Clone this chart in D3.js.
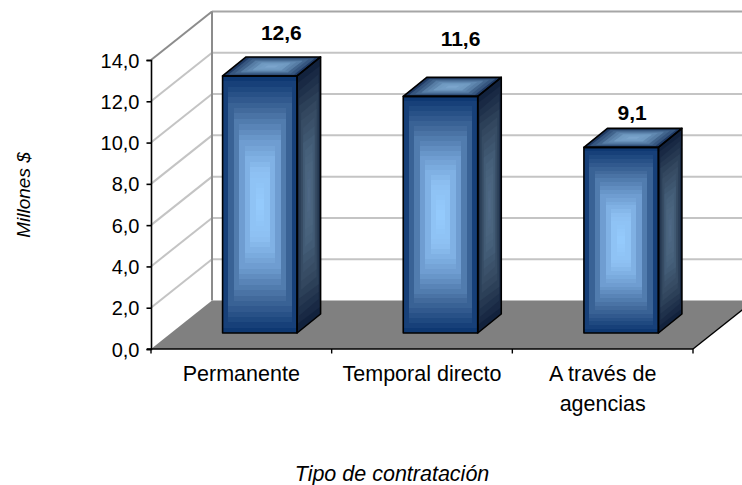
<!DOCTYPE html>
<html><head><meta charset="utf-8">
<script src="https://cdn.jsdelivr.net/npm/d3@7/dist/d3.min.js"></script>
<style>html,body{margin:0;padding:0;background:#fff}svg{display:block}text{font-family:"Liberation Sans",Arial,sans-serif;fill:#000}</style>
</head><body><svg id="c" width="742" height="485"></svg>
<script>
const categories=[["Permanente"],["Temporal directo"],["A través de","agencias"]];
const values=[12.6,11.6,9.1];
const valueLabels=["12,6","11,6","9,1"];
const tickValues=[0,2,4,6,8,10,12,14];
const tickLabels=["0,0","2,0","4,0","6,0","8,0","10,0","12,0","14,0"];
const yTitle="Millones $";
const xTitle="Tipo de contratación";

const svg=d3.select("#c");
const W=742,H=485;
svg.append("defs").append("clipPath").attr("id","page").append("rect").attr("width",W).attr("height",H);
const root=svg.append("g").attr("clip-path","url(#page)");
const x0=151,x1=693,yBase=349,yTop=60,dx=61,dy=-48.5;
const y=d3.scaleLinear().domain([0,14]).range([yBase,yTop]);
const yBar=d3.scaleLinear().domain([0,14]).range([333,333-14*20.4]);
const x=d3.scaleBand().domain(d3.range(categories.length)).range([x0,x1]);
const path=p=>"M"+p.map(q=>q.join(",")).join("L")+"Z";

root.append("path").attr("d",path([[x0,yBase],[x1,yBase],[x1+dx,yBase+dy],[x0+dx,yBase+dy]])).attr("fill","#808080");
root.append("line").attr("x1",x1).attr("y1",yBase).attr("x2",x1+dx).attr("y2",yBase+dy).attr("stroke","#000").attr("stroke-width",1.4);
const gridVals=tickValues.slice(1);
root.selectAll(".gs").data(gridVals).join("line").attr("stroke",(d,i)=>i==gridVals.length-1?"#8c8c8c":"#c4c4c4").attr("stroke-width",2)
 .attr("x1",x0).attr("y1",d=>y(d)).attr("x2",x0+dx).attr("y2",d=>y(d)+dy);
root.selectAll(".gb").data(gridVals).join("line").attr("stroke",(d,i)=>i==gridVals.length-1?"#a6a6a6":"#c4c4c4").attr("stroke-width",2)
 .attr("x1",x0+dx).attr("y1",d=>y(d)+dy).attr("x2",W).attr("y2",d=>y(d)+dy);
root.append("line").attr("x1",x0+dx).attr("x2",x0+dx).attr("y1",y(14)+dy).attr("y2",yBase+dy).attr("stroke","#8c8c8c").attr("stroke-width",2);

const ramp=(stops)=>d3.scaleLinear().domain(d3.range(stops.length).map(i=>i/(stops.length-1))).range(stops).interpolate(d3.interpolateRgb);
// concentric bands; the sideways inset advances in coarse stripes of xStep px
function stepped(g,quad,stops,n,xStep,crisp){
  const c=ramp(stops);
  const cx=d3.mean(quad,q=>q[0]),cy=d3.mean(quad,q=>q[1]);
  const hw=d3.max(quad,q=>Math.abs(q[0]-cx));
  for(let i=0;i<n;i++){
    const s=1-i/n;
    const inset=Math.round((1-s)*hw/xStep)*xStep;
    const sx=Math.max(0.08,(hw-inset)/hw);
    const p=g.append("path").attr("d",path(quad.map(q=>[cx+(q[0]-cx)*sx,cy+(q[1]-cy)*s])))
     .attr("fill",c(i/(n-1)));
    if(crisp)p.attr("shape-rendering","crispEdges");
  }
}
const bw=74.5,bdx=23.5,bdy=-19,shift=18.5;
const labelDx=[21.5,20,11],labelGap=[17,31,8];
values.forEach((v,i)=>{
  const l=x(i)+x.bandwidth()/2+shift-bw/2,r=l+bw,b=yBar(0),t=yBar(v);
  const g=root.append("g");
  const front=[[l,t],[r,t],[r,b],[l,b]];
  const side=[[r,t],[r+bdx,t+bdy],[r+bdx,b+bdy],[r,b]];
  const top=[[l,t],[l+bdx,t+bdy],[r+bdx,t+bdy],[r,t]];
  stepped(g,side,["#12223d","#33475f","#46607a","#4f6985"],16,2,false);
  stepped(g,top,["#1f3a64","#4a6e96","#6d97bf","#7ba5cc"],12,6,false);
  stepped(g,front,["#0e3872","#40689a","#6c9ace","#8dc0f2","#94cafc"],24,5.5,true);
  [front,side,top].forEach(q=>g.append("path").attr("d",path(q)).attr("fill","none").attr("stroke","#000").attr("stroke-width",1.6).attr("stroke-linejoin","round"));
  root.append("text").attr("x",l+bw/2+labelDx[i]).attr("y",t+bdy-labelGap[i]).attr("text-anchor","middle").attr("font-size",21).attr("font-weight","bold").text(valueLabels[i]);
});

const ax=d3.axisLeft(y).tickValues(tickValues).tickSize(4.5).tickPadding(7).tickFormat((d,i)=>tickLabels[i]);
const axG=root.append("g").attr("transform",`translate(${x0},0)`).call(ax);
axG.selectAll("text").attr("font-size",20).attr("font-family",'"Liberation Sans",Arial,sans-serif').attr("dy","0.35em");
axG.selectAll("line,path").attr("stroke","#000").attr("stroke-width",1.6);
const xt=d3.scaleLinear().domain([0,3]).range([x0,x1]);
root.append("line").attr("x1",x0-4).attr("x2",x1).attr("y1",yBase).attr("y2",yBase).attr("stroke","#000").attr("stroke-width",1.6);
root.selectAll(".xt").data(d3.range(4)).join("line").attr("x1",d=>xt(d)).attr("x2",d=>xt(d)).attr("y1",yBase).attr("y2",yBase+4.5).attr("stroke","#000").attr("stroke-width",1.4);
categories.forEach((c,i)=>{
  c.forEach((s,j)=>root.append("text").attr("x",xt(i+.5)).attr("y",381+j*30).attr("text-anchor","middle").attr("font-size",21.5).text(s));
});
root.append("text").attr("transform","translate(30,195) rotate(-90)").attr("text-anchor","middle").attr("font-size",19).attr("font-style","italic").text(yTitle);
root.append("text").attr("x",392).attr("y",481).attr("text-anchor","middle").attr("font-size",21.5).attr("font-style","italic").text(xTitle);
</script></body></html>
